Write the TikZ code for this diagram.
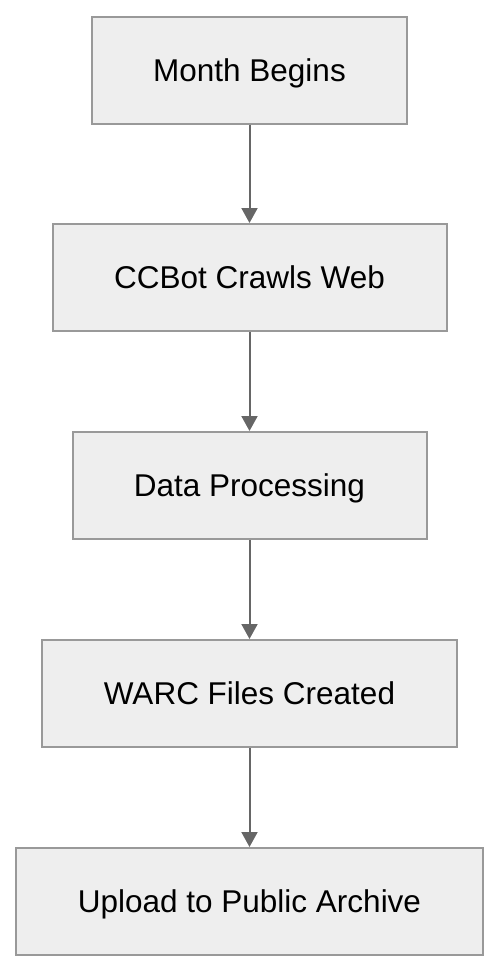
\documentclass[tikz,border=0pt]{standalone}
\usepackage{fontspec}
\setmainfont{Liberation Sans}
\usetikzlibrary{arrows.meta}
\definecolor{boxfill}{HTML}{EEEEEE}
\definecolor{boxline}{HTML}{999999}
\definecolor{arrowc}{HTML}{666666}
\tikzset{
  stepbox/.style={draw=boxline, fill=boxfill, line width=2pt, rectangle, minimum height=107pt, inner sep=0pt, text depth=0pt, font=\fontsize{31.5}{38}\selectfont},
  flow/.style={draw=arrowc, line width=2pt, -{Triangle[width=16pt,length=15pt]}}
}
\begin{document}
\begin{tikzpicture}[x=1pt,y=-1pt]
\useasboundingbox (0,0) rectangle (498,972);
\node[stepbox, minimum width=315pt] (a) at (249.5,70) {Month Begins};
\node[stepbox, minimum width=394pt] (b) at (249.5,277.5) {CCBot Crawls Web};
\node[stepbox, minimum width=354pt] (c) at (249.5,485.5) {Data Processing};
\node[stepbox, minimum width=415pt] (d) at (249.5,693.5) {WARC Files Created};
\node[stepbox, minimum width=467pt] (e) at (249.5,901.5) {Upload to Public Archive};
\draw[flow] (a.south) -- (b.north);
\draw[flow] (b.south) -- (c.north);
\draw[flow] (c.south) -- (d.north);
\draw[flow] (d.south) -- (e.north);
\end{tikzpicture}
\end{document}
